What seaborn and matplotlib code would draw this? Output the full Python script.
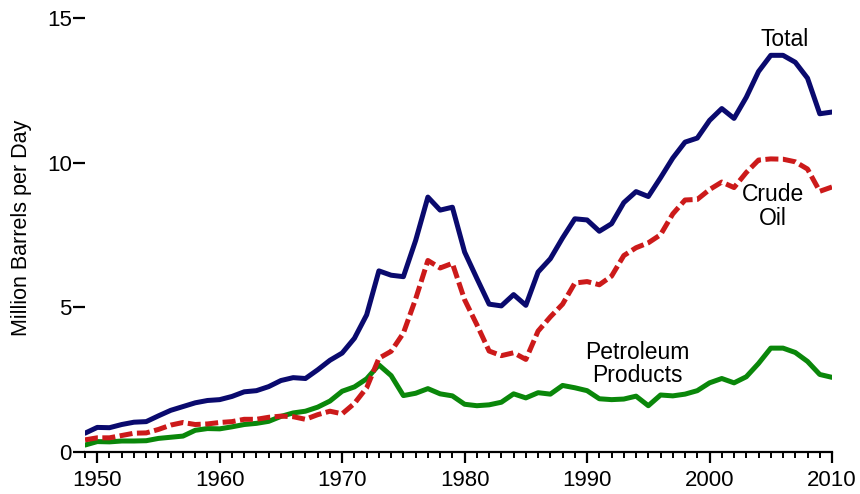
import matplotlib
matplotlib.use("Agg")
import matplotlib.pyplot as plt
import seaborn as sns
import pandas as pd
import numpy as np
from matplotlib.ticker import MultipleLocator

years = list(range(1949, 2011))
total = [0.65, 0.85, 0.84, 0.95, 1.03, 1.05, 1.25, 1.44, 1.57, 1.70, 1.78, 1.81,
         1.92, 2.08, 2.12, 2.26, 2.47, 2.57, 2.54, 2.84, 3.17, 3.42, 3.93, 4.74,
         6.26, 6.11, 6.06, 7.31, 8.81, 8.36, 8.46, 6.91, 6.00, 5.11, 5.05, 5.44,
         5.07, 6.22, 6.68, 7.40, 8.06, 8.02, 7.63, 7.89, 8.62, 9.00, 8.83, 9.48,
         10.16, 10.71, 10.85, 11.46, 11.87, 11.53, 12.26, 13.15, 13.71, 13.71,
         13.47, 12.92, 11.69, 11.75]
crude = [0.42, 0.49, 0.49, 0.57, 0.65, 0.66, 0.78, 0.93, 1.02, 0.95, 0.97, 1.02,
         1.05, 1.13, 1.13, 1.20, 1.24, 1.22, 1.13, 1.29, 1.41, 1.32, 1.68, 2.22,
         3.24, 3.48, 4.11, 5.29, 6.62, 6.36, 6.52, 5.26, 4.40, 3.49, 3.33, 3.43,
         3.20, 4.18, 4.67, 5.11, 5.84, 5.89, 5.78, 6.08, 6.79, 7.06, 7.23, 7.51,
         8.23, 8.71, 8.73, 9.07, 9.33, 9.14, 9.66, 10.09, 10.13, 10.12, 10.03,
         9.78, 9.01, 9.16]
products = [0.24, 0.36, 0.35, 0.38, 0.38, 0.39, 0.47, 0.51, 0.55, 0.75, 0.81, 0.80,
            0.87, 0.95, 0.99, 1.06, 1.23, 1.35, 1.41, 1.55, 1.76, 2.10, 2.25, 2.53,
            3.01, 2.64, 1.95, 2.03, 2.19, 2.01, 1.94, 1.65, 1.60, 1.63, 1.72, 2.01,
            1.87, 2.05, 2.00, 2.30, 2.22, 2.12, 1.84, 1.81, 1.83, 1.93, 1.60, 1.97,
            1.94, 2.00, 2.12, 2.39, 2.54, 2.39, 2.60, 3.06, 3.59, 3.59, 3.44, 3.13,
            2.68, 2.58]
yticks = [0, 5, 10, 15]
xticks = [1950, 1960, 1970, 1980, 1990, 2000, 2010]

df = pd.DataFrame({"year": years, "Total": total, "Crude": crude, "Products": products})

sns.set_theme(style="white")
plt.rcParams['font.family'] = ['Liberation Sans', 'DejaVu Sans']
plt.rcParams['text.color'] = 'black'
plt.rcParams['axes.labelcolor'] = 'black'

fig = plt.figure(figsize=(8.6, 4.94), dpi=100)
ax = fig.add_axes([85/860, 42/494, 747/860, 434/494])

navy = "#0a0a6e"
red = "#cc1a1a"
green = "#0a870a"

sns.lineplot(data=df, x="year", y="Products", ax=ax, color=green, linewidth=3.6)
sns.lineplot(data=df, x="year", y="Crude", ax=ax, color=red, linewidth=3.6)
ax.lines[-1].set_dashes((2.6, 0.9))
ax.lines[-1].set_dash_capstyle("butt")
sns.lineplot(data=df, x="year", y="Total", ax=ax, color=navy, linewidth=3.6)

ax.set_xlim(1949, 2010)
ax.set_ylim(0, 15)
ax.set_xticks(xticks)
ax.xaxis.set_minor_locator(MultipleLocator(1))
ax.set_yticks(yticks)
ax.set_yticklabels([str(v) for v in yticks])
ax.set_xticklabels([str(v) for v in xticks])

for s in ["top", "right", "left"]:
    ax.spines[s].set_visible(False)
ax.spines["bottom"].set_linewidth(1.6)
ax.spines["bottom"].set_color("black")

ax.tick_params(axis="x", which="major", direction="out", length=8, width=1.6,
               labelsize=16, pad=5, colors="black", bottom=True)
ax.tick_params(axis="x", which="minor", direction="out", length=4.5, width=1.4,
               colors="black", bottom=True)
ax.tick_params(axis="y", which="major", direction="out", length=8.6, width=1.6,
               labelsize=16, pad=1, colors="black", left=True)

ax.set_xlabel("")
ax.set_ylabel("Million Barrels per Day", fontsize=15.5, color="black")
ax.yaxis.set_label_coords(-0.071, 0.516)

ax.text(2006.1, 14.24, "Total", ha="center", va="center", fontsize=16.5, color="black")
ax.text(2005.2, 8.47, "Crude\nOil", ha="center", va="center", fontsize=16.5,
        linespacing=1.05, color="black")
ax.text(1994.1, 3.04, "Petroleum\nProducts", ha="center", va="center", fontsize=16.5,
        linespacing=1.05, color="black")

ax.grid(False)
fig.savefig("out.png", dpi=100)
